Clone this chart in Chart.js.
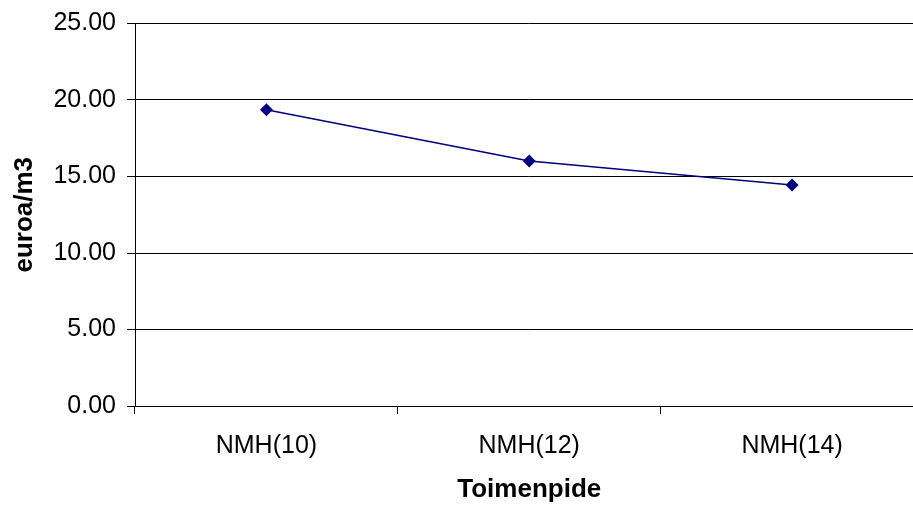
<!DOCTYPE html>
<html>
<head>
<meta charset="utf-8">
<script src="https://cdn.jsdelivr.net/npm/chart.js@4/dist/chart.umd.min.js"></script>
<style>
html,body{margin:0;padding:0;background:#fff;overflow:hidden;}
#wrap{position:relative;width:930px;height:506px;}
</style>
</head>
<body>
<div id="wrap"><canvas id="c"></canvas></div>
<script>
const categories = ["NMH(10)", "NMH(12)", "NMH(14)"];
const costValues = [19.37, 16.02, 14.45];
const yTicks = [0, 5, 10, 15, 20, 25];
const yTitle = "euroa/m3";
const xTitle = "Toimenpide";

const tickFont = {family: "'Liberation Sans', Arial, sans-serif", size: 25, lineHeight: 1.0};
const titleFont = {family: "'Liberation Sans', Arial, sans-serif", size: 26, weight: 'bold'};

new Chart(document.getElementById('c'), {
  type: 'line',
  data: {
    labels: categories,
    datasets: [{
      data: costValues,
      borderColor: '#000080',
      backgroundColor: '#000080',
      borderWidth: 1.5,
      pointStyle: 'rectRot',
      pointRadius: 6.5,
      pointBorderWidth: 0,
      pointBackgroundColor: '#000080',
      tension: 0,
      fill: false
    }]
  },
  options: {
    responsive: true,
    maintainAspectRatio: false,
    animation: false,
    layout: {padding: {top: 12, right: 2, left: 0, bottom: 0}},
    plugins: {legend: {display: false}, tooltip: {enabled: false}},
    scales: {
      x: {
        type: 'category',
        offset: true,
        grid: {offset: true, drawOnChartArea: false, drawTicks: true, tickLength: 8, color: '#000'},
        border: {display: true, color: '#000', width: 1},
        ticks: {font: {family: "'Liberation Sans', Arial, sans-serif", size: 25}, color: '#000', padding: 17, maxRotation: 0, autoSkip: false},
        title: {display: true, text: xTitle, font: titleFont, color: '#000', padding: {top: 4, bottom: 1}},
        afterFit: (s) => { s.height = 100; }
      },
      y: {
        min: yTicks[0],
        max: yTicks[yTicks.length - 1],
        afterBuildTicks: (s) => { s.ticks = yTicks.map(v => ({value: v})); },
        grid: {color: '#000', lineWidth: 1, tickLength: 8, drawTicks: true},
        border: {display: true, color: '#000', width: 1},
        ticks: {font: tickFont, color: '#000', padding: 11, callback: (v) => Number(v).toFixed(2)},
        title: {display: true, text: yTitle, font: titleFont, color: '#000', padding: {top: 9, bottom: 4}},
        afterFit: (s) => { s.width = 135; }
      }
    }
  }
});
</script>
</body>
</html>
